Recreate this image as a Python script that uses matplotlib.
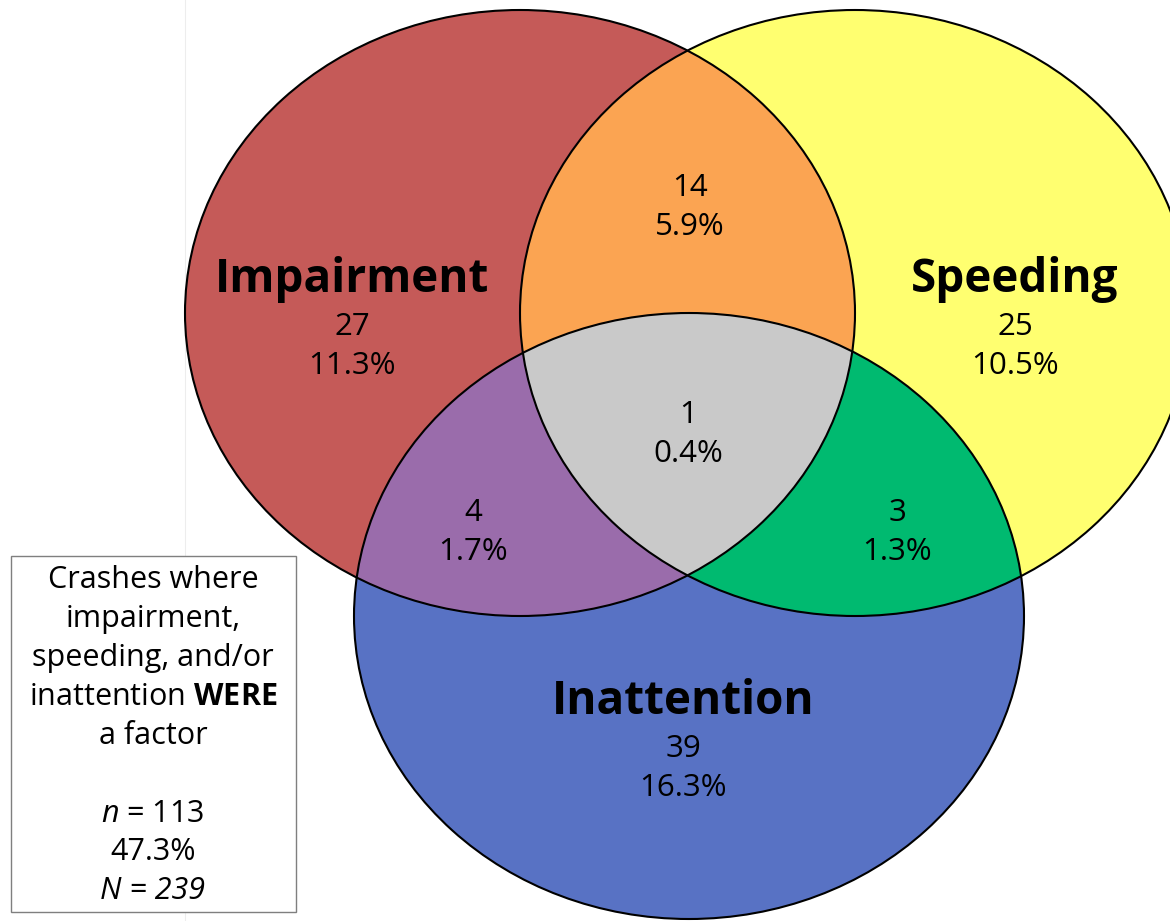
import numpy as np
import matplotlib.pyplot as plt
from matplotlib.patches import Ellipse, Polygon, Rectangle

plt.rcParams['font.family'] = ['Open Sans', 'DejaVu Sans']
plt.rcParams['mathtext.fontset'] = 'custom'
plt.rcParams['mathtext.rm'] = 'Open Sans'
plt.rcParams['mathtext.it'] = 'Open Sans:italic'
plt.rcParams['mathtext.bf'] = 'Open Sans:bold'

# crash counts per region of the venn
set_names = ['Impairment', 'Speeding', 'Inattention']
only_counts = [27, 25, 39]
only_pcts = ['11.3%', '10.5%', '16.3%']
pair_sets = [(0, 1), (0, 2), (1, 2)]
pair_counts = [14, 4, 3]
pair_pcts = ['5.9%', '1.7%', '1.3%']
all_count = 1
all_pct = '0.4%'
n_factor = 113
n_factor_pct = '47.3%'
n_total = 239

set_colors = ['#C55A58', '#FFFF70', '#5872C4']
pair_colors = ['#FBA452', '#9A6CAB', '#00BA70']
all_color = '#C9C9C9'

# layout (pixel coords, y down)
W, H = 1170, 921
A, B = 335, 303
centers = [(520, 313), (855, 313), (689, 616)]
name_pos = [(352, 292), (1015, 292), (683, 714)]
pair_pos = [(690, 196), (473, 521), (897, 521)]
all_pos = (688, 423)


def ell_pts(c, n=4000):
    t = np.linspace(0, 2 * np.pi, n, endpoint=False)
    return np.column_stack([c[0] + A * np.cos(t), c[1] + B * np.sin(t)])


def inside(p, c):
    return ((p[:, 0] - c[0]) / A) ** 2 + ((p[:, 1] - c[1]) / B) ** 2 <= 1 + 1e-9


def overlap(idx):
    # intersection of convex ellipses -> polygon
    pts = []
    for i in idx:
        p = ell_pts(centers[i])
        m = np.ones(len(p), bool)
        for j in idx:
            if j != i:
                m &= inside(p, centers[j])
        pts.append(p[m])
    pts = np.vstack(pts)
    mid = pts.mean(axis=0)
    ang = np.arctan2(pts[:, 1] - mid[1], pts[:, 0] - mid[0])
    return pts[np.argsort(ang)]


fig = plt.figure(figsize=(W / 100, H / 100), dpi=100)
ax = fig.add_axes([0, 0, 1, 1])
ax.set_xlim(0, W)
ax.set_ylim(H, 0)
ax.axis('off')

ax.plot([185, 185], [0, H], color='#ededed', lw=0.8, zorder=0)

for c, col in zip(centers, set_colors):
    ax.add_patch(Ellipse(c, 2 * A, 2 * B, facecolor=col, edgecolor='none', zorder=1))
for ps, col in zip(pair_sets, pair_colors):
    ax.add_patch(Polygon(overlap(ps), closed=True, facecolor=col, edgecolor='none', zorder=2))
ax.add_patch(Polygon(overlap((0, 1, 2)), closed=True, facecolor=all_color, edgecolor='none', zorder=3))
for c in centers:
    ax.add_patch(Ellipse(c, 2 * A, 2 * B, facecolor='none', edgecolor='black', lw=1.5, zorder=4))

big = 33
small = 22.5
for name, cnt, pct, (x, y) in zip(set_names, only_counts, only_pcts, name_pos):
    ax.text(x, y, name, fontsize=big, fontweight='bold', ha='center', va='baseline', zorder=5)
    ax.text(x, y + 43, str(cnt), fontsize=small, ha='center', va='baseline', zorder=5)
    ax.text(x, y + 82, pct, fontsize=small, ha='center', va='baseline', zorder=5)

for cnt, pct, (x, y) in zip(pair_counts, pair_pcts, pair_pos):
    ax.text(x, y, str(cnt), fontsize=small, ha='center', va='baseline', zorder=5)
    ax.text(x, y + 39, pct, fontsize=small, ha='center', va='baseline', zorder=5)

ax.text(all_pos[0], all_pos[1], str(all_count), fontsize=small, ha='center', va='baseline', zorder=5)
ax.text(all_pos[0], all_pos[1] + 39, all_pct, fontsize=small, ha='center', va='baseline', zorder=5)

# note box
note_fs = 22
ax.add_patch(Rectangle((10.5, 555.5), 285, 356, facecolor='white', edgecolor='#7f7f7f', lw=1, zorder=5))
note = ['Crashes where', 'impairment,', 'speeding, and/or',
        r'inattention $\mathbf{WERE}$', 'a factor']
for k, line in enumerate(note):
    ax.text(153, 588 + 39 * k, line, fontsize=note_fs, ha='center', va='baseline', zorder=6)
ax.text(153, 822, r'$n$ = %d' % n_factor, fontsize=note_fs, ha='center', va='baseline', zorder=6)
ax.text(153, 860, n_factor_pct, fontsize=note_fs, ha='center', va='baseline', zorder=6)
ax.text(153, 899, 'N = %d' % n_total, fontsize=note_fs, style='italic', ha='center', va='baseline', zorder=6)

fig.savefig('out.png', dpi=100)
